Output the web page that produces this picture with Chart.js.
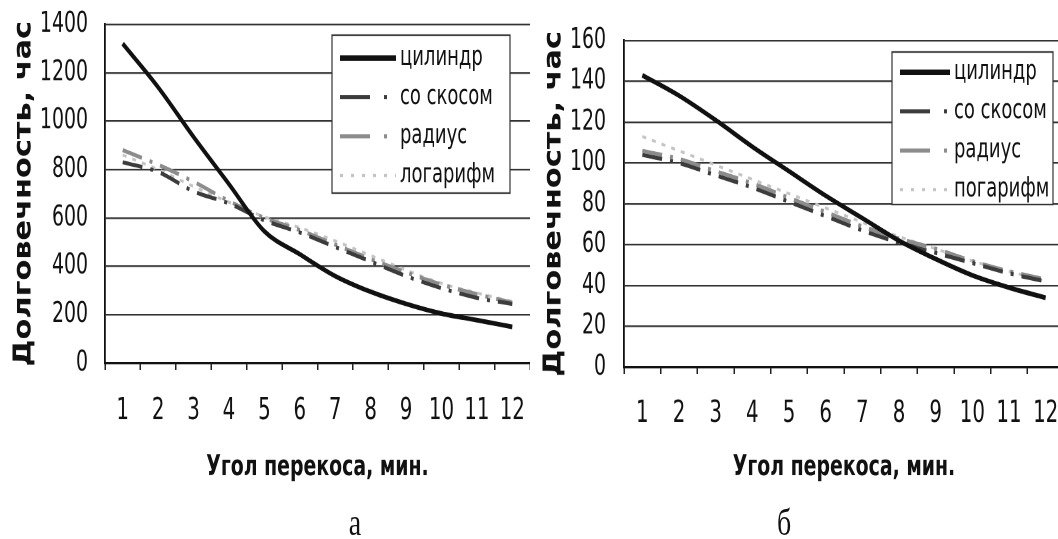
<!DOCTYPE html>
<html>
<head>
<meta charset="utf-8">
<script src="https://cdn.jsdelivr.net/npm/chart.js@4.4.1/dist/chart.umd.min.js"></script>
<style>
  html, body { margin: 0; padding: 0; background: #fff; overflow: hidden; width: 1058px; height: 539px; }
  /* the scanned original is stretched vertically, so the whole sheet is too */
  #sheet { position: absolute; left: 0; top: 0; width: 1064px; height: 400px; transform: scaleY(1.35); transform-origin: 0 0; }
  canvas { position: absolute; top: 0; }
  .caption { position: absolute; top: 373px; line-height: 1; font-family: 'Liberation Serif', 'DejaVu Serif', serif; font-size: 28px; color: #111; transform: translateX(-50%); }
</style>
</head>
<body>
<div id="sheet">
  <canvas id="chartA" width="530" height="370" style="left:0"></canvas>
  <canvas id="chartB" width="534" height="370" style="left:530px"></canvas>
  <div class="caption" style="left:355px">а</div>
  <div class="caption" style="left:784px">б</div>
</div>
<script>
// skew angle, minutes
const angles = ['1', '2', '3', '4', '5', '6', '7', '8', '9', '10', '11', '12'];
const namesA = ['цилиндр', 'со скосом', 'радиус', 'логарифм'];
const namesB = ['цилиндр', 'со скосом', 'радиус', 'погарифм'];

// chart "а" - durability, hours
const cylinderA = [1320, 1140, 935, 740, 545, 450, 360, 295, 245, 205, 178, 150];
const bevelA    = [830, 790, 710, 660, 590, 540, 480, 420, 360, 310, 270, 245];
const radiusA   = [880, 820, 750, 670, 600, 550, 490, 430, 375, 325, 285, 250];
const logA      = [860, 800, 730, 665, 605, 560, 505, 445, 385, 330, 290, 255];
const yTicksA   = [0, 200, 400, 600, 800, 1000, 1200, 1400];

// chart "б"
const cylinderB = [143, 133, 121, 108, 96, 84, 73, 62, 53, 45, 39, 34];
const bevelB    = [104, 100, 94, 88, 81, 74, 67, 61, 56, 51, 46, 42];
const radiusB   = [106, 102, 96, 90, 83, 76, 69, 63, 58, 52, 47, 43];
const logB      = [113, 106, 99, 92, 85, 78, 71, 64, 58, 52, 47, 42];
const yTicksB   = [0, 20, 40, 60, 80, 100, 120, 140, 160];

const narrow = "'DejaVu Sans Condensed', 'Liberation Sans Narrow', sans-serif";

// line looks for the four profiles
const lineStyles = [
    { color: '#111', width: 3.5, dash: [] },
    { color: '#3c3c3c', width: 3, dash: [20, 8, 3, 8] },
    { color: '#8c8c8c', width: 3, dash: [20, 8, 3, 8] },
    { color: '#c4c4c4', width: 2.2, dash: [4, 6] }
];

// legend box drawn inside the plot, on top of the grid
const boxLegend = {
    id: 'boxLegend',
    afterDatasetsDraw(chart, args, opts) {
        const ctx = chart.ctx;
        ctx.save();
        ctx.fillStyle = '#fff';
        ctx.fillRect(opts.left, opts.top, opts.width, opts.height);
        ctx.strokeStyle = '#333';
        ctx.lineWidth = 1.2;
        ctx.strokeRect(opts.left, opts.top, opts.width, opts.height);
        chart.data.datasets.forEach((ds, i) => {
            const y = opts.top + opts.firstRow + i * opts.rowGap;
            ctx.beginPath();
            ctx.setLineDash(i === 3 ? [3, 8] : (i > 0 ? [30, 14, 3, 20] : []));
            ctx.strokeStyle = ds.borderColor;
            ctx.lineWidth = i === 0 ? 4 : ds.borderWidth;
            ctx.moveTo(opts.left + 8, y);
            ctx.lineTo(opts.left + 8 + opts.sampleW, y);
            ctx.stroke();
            ctx.setLineDash([]);
            ctx.fillStyle = '#111';
            ctx.font = '20px ' + narrow;
            ctx.textBaseline = 'middle';
            ctx.fillText(ds.label, opts.left + 12 + opts.sampleW, y);
        });
        ctx.restore();
    }
};

function makeChart(id, names, series, yTicks, cfg) {
    const datasets = series.map((values, i) => ({
        label: names[i],
        data: values,
        borderColor: lineStyles[i].color,
        borderWidth: lineStyles[i].width,
        borderDash: lineStyles[i].dash,
        pointRadius: 0,
        cubicInterpolationMode: 'monotone',
        fill: false
    }));

    return new Chart(document.getElementById(id), {
        type: 'line',
        data: { labels: angles, datasets: datasets },
        plugins: [boxLegend],
        options: {
            responsive: false,
            animation: false,
            devicePixelRatio: 2,
            layout: { padding: { top: cfg.top, left: 0, right: 0, bottom: 0 } },
            plugins: {
                legend: { display: false },
                tooltip: { enabled: false },
                boxLegend: cfg.legend
            },
            scales: {
                x: {
                    offset: true,
                    grid: { offset: true, drawOnChartArea: false, drawTicks: true, tickLength: 5, color: '#222', lineWidth: 1.5 },
                    border: { display: true, color: '#111', width: 1.6 },
                    // tall line height pushes the labels down without widening the side padding
                    ticks: { color: '#111', padding: 0, maxRotation: 0, autoSkip: false, font: { family: narrow, size: 22, lineHeight: cfg.xLine } },
                    title: {
                        display: true,
                        text: 'Угол перекоса, мин.',
                        color: '#111',
                        padding: { top: 0, bottom: 11 },
                        font: { family: narrow, size: 21, weight: 'bold' }
                    },
                    afterFit: scale => { scale.height = cfg.xHeight; }
                },
                y: {
                    min: yTicks[0],
                    max: yTicks[yTicks.length - 1],
                    ticks: {
                        stepSize: yTicks[1] - yTicks[0],
                        color: '#111',
                        padding: 0,
                        font: { family: narrow, size: 21 },
                        callback: value => String(value)
                    },
                    grid: { color: '#333', lineWidth: 1.2, tickLength: cfg.yGap, tickColor: 'rgba(0,0,0,0)' },
                    border: { display: true, color: '#111', width: 1.8 },
                    title: {
                        display: true,
                        text: 'Долговечность, час',
                        color: '#111',
                        padding: { top: cfg.titlePad, bottom: 0 },
                        font: { family: narrow, size: 25, weight: 'bold' }
                    },
                    afterFit: scale => { scale.width = cfg.yWidth; }
                }
            }
        }
    });
}

makeChart('chartA', namesA, [cylinderA, bevelA, radiusA, logA], yTicksA, {
    top: 18, xHeight: 101, xLine: 2.8, yWidth: 105, yGap: 17, titlePad: 9,
    legend: { left: 332, top: 26, width: 178, height: 117, firstRow: 17, rowGap: 29, sampleW: 56 }
});

makeChart('chartB', namesB, [cylinderB, bevelB, radiusB, logB], yTicksB, {
    top: 30, xHeight: 98, xLine: 2.7, yWidth: 94, yGap: 18, titlePad: 9,
    legend: { left: 362, top: 38.5, width: 161, height: 113, firstRow: 15, rowGap: 29, sampleW: 50 }
});
</script>
</body>
</html>
